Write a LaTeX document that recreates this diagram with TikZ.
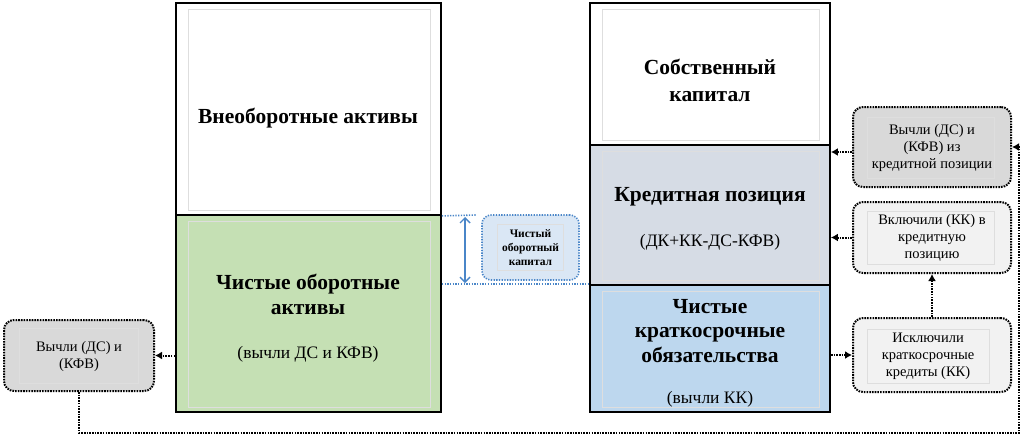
\documentclass[tikz,border=0pt]{standalone}
\usepackage{fontspec}
\setmainfont{Liberation Serif}
\usetikzlibrary{arrows.meta,calc}
\definecolor{greenF}{HTML}{C5E0B4}
\definecolor{credF}{HTML}{D6DCE5}
\definecolor{blueF}{HTML}{BDD7EE}
\definecolor{grayF}{HTML}{D9D9D9}
\definecolor{lgrayF}{HTML}{F2F2F2}
\definecolor{ncF}{HTML}{DAE7F5}
\definecolor{lineB}{HTML}{4A86C8}
\tikzset{
  mainbox/.style={draw=black, line width=1.8pt, rectangle, inner sep=0pt},
  innerbox/.style={draw=black!13, line width=0.7pt},
  sidebox/.style={draw=black, line width=2pt, dash pattern=on 1.6pt off 1.1pt, rounded corners=10pt, rectangle, inner sep=0pt, align=center, font=\fontsize{14.5}{17}\selectfont},
  conn/.style={line width=2pt, dash pattern=on 1.6pt off 1.1pt, -{Latex[length=7pt,width=8pt]}},
  btext/.style={font=\bfseries\fontsize{21.5}{25}\selectfont, align=center, inner sep=0pt},
  rtext/.style={font=\fontsize{17.5}{20}\selectfont, align=center, inner sep=0pt},
  bline/.style={draw=lineB, line width=1.6pt, dash pattern=on 1.3pt off 1.4pt},
}
\begin{document}
\begin{tikzpicture}[x=1pt,y=-1pt]
\useasboundingbox (0,0) rectangle (1024,440);
% main boxes
\node[mainbox, fill=white, minimum width=265pt, minimum height=212pt] (vna) at (308.5,109) {};
\node[mainbox, fill=greenF, minimum width=265pt, minimum height=197pt] (gna) at (308.5,313.5) {};
\node[mainbox, fill=white, minimum width=240pt, minimum height=142pt] (sk) at (710,74) {};
\node[mainbox, fill=credF, minimum width=240pt, minimum height=140pt] (kp) at (710,215) {};
\node[mainbox, fill=blueF, minimum width=240pt, minimum height=127pt] (chk) at (710,348.5) {};
\foreach \b in {vna,gna,sk,kp,chk}{
  \draw[innerbox] ($(\b.north west)+(13,7)$) rectangle ($(\b.south east)+(-12,-6)$);
}
% texts in main boxes
\node[btext] (vnaT) at (308,118) {Внеоборотные активы};
\node[btext] (gnaT) at (308,294) {Чистые оборотные\\активы};
\node[rtext] (gnaS) at (308,354) {(вычли ДС и КФВ)};
\node[btext, font=\bfseries\fontsize{21.5}{27}\selectfont] (skT) at (710,80) {Собственный\\капитал};
\node[btext] (kpT) at (710,197) {Кредитная позиция};
\node[rtext] (kpS) at (710,242) {(ДК+КК-ДС-КФВ)};
\node[btext, font=\bfseries\fontsize{21.5}{24.5}\selectfont] (chkT) at (710,331) {Чистые\\краткосрочные\\обязательства};
\node[rtext] (chkS) at (710,399) {(вычли КК)};
% net working capital marker
\coordinate (t1) at (476,215);
\coordinate (a1) at (465,217);
\coordinate (a2) at (465,283);
\draw[bline] (vna.south east) -- (t1);
\draw[bline] (gna.east |- chk.north) -- (chk.north west);
\draw[draw=lineB, line width=1.4pt, {Straight Barb[length=5pt,width=10pt]}-{Straight Barb[length=5pt,width=10pt]}] (a1) -- (a2);
\node[bline, fill=ncF, rounded corners=9pt, minimum width=97pt, minimum height=65pt, inner sep=0pt] (nc) at (530.5,247.5) {};
\draw[innerbox] ($(nc.north west)+(16,10)$) rectangle ($(nc.south east)+(-16,-10)$);
\node[font=\bfseries\fontsize{11.5}{14}\selectfont, align=center, inner sep=0pt] (ncT) at (530.5,247.5) {Чистый\\оборотный\\капитал};
% side boxes
\node[sidebox, fill=grayF, minimum width=150pt, minimum height=71pt] (lb) at (79,355.5) {};
\draw[innerbox] ($(lb.north west)+(16,9)$) rectangle ($(lb.south east)+(-17,-9)$);
\node[font=\fontsize{14.5}{17}\selectfont, align=center, inner sep=0pt] (lbT) at (79,357) {Вычли (ДС) и\\(КФВ)};
\node[sidebox, fill=grayF, minimum width=158pt, minimum height=80pt] (b1) at (932,147) {};
\draw[innerbox] ($(b1.north west)+(15,11)$) rectangle ($(b1.south east)+(-18,-10)$);
\node[font=\fontsize{14.5}{17}\selectfont, align=center, inner sep=0pt] (b1T) at (932,148) {Вычли (ДС) и\\(КФВ) из\\кредитной позиции};
\node[sidebox, fill=lgrayF, minimum width=158pt, minimum height=71pt] (b2) at (932,237.5) {};
\draw[innerbox] ($(b2.north west)+(15,10)$) rectangle ($(b2.south east)+(-18,-10)$);
\node[font=\fontsize{14.5}{17}\selectfont, align=center, inner sep=0pt] (b2T) at (932,238) {Включили (КК) в\\кредитную\\позицию};
\node[sidebox, fill=lgrayF, minimum width=158pt, minimum height=74pt] (b3) at (932,355) {};
\draw[innerbox] ($(b3.north west)+(15,12)$) rectangle ($(b3.south east)+(-23,-10)$);
\node[font=\fontsize{14.5}{17}\selectfont, align=center, inner sep=0pt] (b3T) at (928,356) {Исключили\\краткосрочные\\кредиты (КК)};
% connectors
\draw[conn] (lb.east -| gna.west) -- (lb.east);
\draw[conn] ($(b1.west)+(0,5)$) -- ($(b1.west -| kp.east)+(0,5)$);
\draw[conn] (b2.west) -- (b2.west -| kp.east);
\draw[conn] (b3.west -| chk.east) -- (b3.west);
\draw[conn] (b3.north) -- (b2.south);
\coordinate (c1) at (1019,433);
\draw[conn] (lb.south) |- (c1) |- (b1.east);
\end{tikzpicture}
\end{document}
